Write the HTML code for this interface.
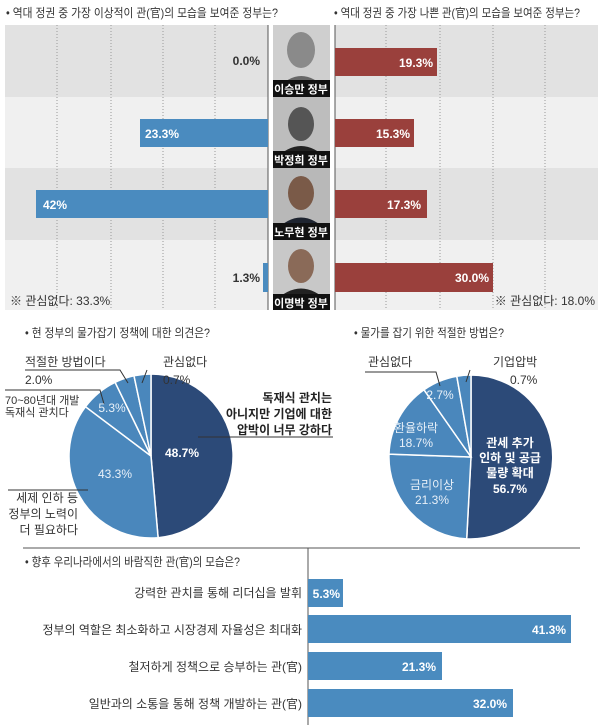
<!DOCTYPE html>
<html><head><meta charset="utf-8"><style>
body{margin:0;background:#fff}
svg{display:block}
text{font-family:"Liberation Sans","Noto Sans CJK KR",sans-serif}
</style></head><body>
<svg width="600" height="725" viewBox="0 0 600 725" xmlns="http://www.w3.org/2000/svg">
<rect width="600" height="725" fill="#fff"/>
<g font-size="12" fill="#333">
<text x="6" y="17" textLength="272" lengthAdjust="spacingAndGlyphs">• 역대 정권 중 가장 이상적이 관(官)의 모습을  보여준 정부는?</text>
<text x="334" y="17" textLength="246" lengthAdjust="spacingAndGlyphs">• 역대 정권 중 가장 나쁜 관(官)의 모습을 보여준 정부는?</text>
</g>
<rect x="5" y="25" width="263" height="72" fill="#e2e2e2"/>
<rect x="5" y="97" width="263" height="71" fill="#f0f0f0"/>
<rect x="5" y="168" width="263" height="72" fill="#e2e2e2"/>
<rect x="5" y="240" width="263" height="70" fill="#f0f0f0"/>
<rect x="335" y="25" width="263" height="72" fill="#e2e2e2"/>
<rect x="335" y="97" width="263" height="71" fill="#f0f0f0"/>
<rect x="335" y="168" width="263" height="72" fill="#e2e2e2"/>
<rect x="335" y="240" width="263" height="70" fill="#f0f0f0"/>
<g stroke="#999" stroke-width="1" stroke-dasharray="1,2">
<line x1="57" y1="25" x2="57" y2="310"/><line x1="111" y1="25" x2="111" y2="310"/>
<line x1="163" y1="25" x2="163" y2="310"/><line x1="215" y1="25" x2="215" y2="310"/>
<line x1="386" y1="25" x2="386" y2="310"/><line x1="440" y1="25" x2="440" y2="310"/>
<line x1="493" y1="25" x2="493" y2="310"/><line x1="545" y1="25" x2="545" y2="310"/>
</g>
<line x1="268" y1="25" x2="268" y2="310" stroke="#555"/>
<line x1="335" y1="25" x2="335" y2="310" stroke="#555"/>
<rect x="140" y="119" width="128" height="28" fill="#4a8bbf"/>
<rect x="36" y="190" width="232" height="28" fill="#4a8bbf"/>
<rect x="263" y="263" width="5" height="29" fill="#4a8bbf"/>
<rect x="335" y="48" width="102" height="28" fill="#9a403c"/>
<rect x="335" y="119" width="79" height="28" fill="#9a403c"/>
<rect x="335" y="190" width="92" height="28" fill="#9a403c"/>
<rect x="335" y="263" width="158" height="29" fill="#9a403c"/>
<g font-size="12" font-weight="bold">
<text x="260" y="65" text-anchor="end" fill="#333">0.0%</text>
<text x="145" y="138" fill="#fff">23.3%</text>
<text x="43" y="209" fill="#fff">42%</text>
<text x="260" y="282" text-anchor="end" fill="#333">1.3%</text>
<text x="433" y="67" text-anchor="end" fill="#fff">19.3%</text>
<text x="410" y="138" text-anchor="end" fill="#fff">15.3%</text>
<text x="421" y="209" text-anchor="end" fill="#fff">17.3%</text>
<text x="489" y="282" text-anchor="end" fill="#fff">30.0%</text>
</g>
<g font-size="12" fill="#333">
<text x="10" y="305">※ 관심없다: 33.3%</text>
<text x="595" y="305" text-anchor="end">※ 관심없다: 18.0%</text>
</g>
<g>
<rect x="273" y="25" width="57" height="72" fill="#cfcfcf"/>
<ellipse cx="301" cy="50" rx="14" ry="18" fill="#8a8a8a"/>
<path d="M276,90 Q301,62 327,90 Z" fill="#666"/>
<rect x="273" y="80" width="57" height="17" fill="#111"/>
<rect x="273" y="97" width="57" height="71" fill="#bdbdbd"/>
<ellipse cx="301" cy="124" rx="13" ry="17" fill="#555"/>
<path d="M274,160 Q301,132 328,160 Z" fill="#222"/>
<rect x="273" y="151" width="57" height="17" fill="#111"/>
<rect x="273" y="168" width="57" height="72" fill="#b8b8b8"/>
<ellipse cx="301" cy="193" rx="13" ry="17" fill="#7a5a48"/>
<path d="M274,232 Q301,203 328,232 Z" fill="#1e2430"/>
<rect x="273" y="223" width="57" height="17" fill="#111"/>
<rect x="273" y="240" width="57" height="70" fill="#c8c8c8"/>
<ellipse cx="301" cy="266" rx="13" ry="17" fill="#8a6a58"/>
<path d="M274,302 Q301,275 328,302 Z" fill="#222"/>
<rect x="273" y="294" width="57" height="16" fill="#111"/>
</g>
<g font-size="11" font-weight="bold" fill="#fff" text-anchor="middle">
<text x="301" y="93">이승만 정부</text>
<text x="301" y="164">박정희 정부</text>
<text x="301" y="236">노무현 정부</text>
<text x="301" y="307">이명박 정부</text>
</g>
<g font-size="12" fill="#333">
<text x="25" y="337" textLength="185" lengthAdjust="spacingAndGlyphs">• 현 정부의 물가잡기 정책에 대한 의견은?</text>
<text x="354" y="337" textLength="150" lengthAdjust="spacingAndGlyphs">• 물가를 잡기 위한 적절한 방법은?</text>
</g>
<g stroke="#fff" stroke-width="1.5">
<path d="M151,456 L151,374 A82,82 0 0 1 158.1,537.7 Z" fill="#2c4a78"/>
<path d="M151,456 L158.1,537.7 A82,82 0 0 1 85.5,406.7 Z" fill="#4a87bc"/>
<path d="M151,456 L85.5,406.7 A82,82 0 0 1 115.1,382.3 Z" fill="#4a87bc"/>
<path d="M151,456 L115.1,382.3 A82,82 0 0 1 134,375.8 Z" fill="#4a87bc"/>
<path d="M151,456 L134,375.8 A82,82 0 0 1 151,374 Z" fill="#4a87bc"/>
</g>
<g stroke="#fff" stroke-width="1.5">
<path d="M471,457 L471,375 A82,82 0 1 1 466.7,538.9 Z" fill="#2c4a78"/>
<path d="M471,457 L466.7,538.9 A82,82 0 0 1 389,454.1 Z" fill="#4a87bc"/>
<path d="M471,457 L389,454.1 A82,82 0 0 1 424,389.8 Z" fill="#4a87bc"/>
<path d="M471,457 L424,389.8 A82,82 0 0 1 456.8,376.2 Z" fill="#4a87bc"/>
<path d="M471,457 L456.8,376.2 A82,82 0 0 1 471,375 Z" fill="#4a87bc"/>
</g>
<g stroke="#333" stroke-width="1" fill="none">
<polyline points="198,437 333,437"/>
<polyline points="25,370 120,370 128,383"/>
<polyline points="147,370 142,383"/>
<polyline points="5,390 100,390 104,404"/>
<polyline points="8,490 88,490"/>
<polyline points="365,372 436,372 440,386"/>
<polyline points="470,370 466,382"/>
</g>
<g font-size="12" fill="#333">
<text x="25" y="366">적절한 방법이다</text>
<text x="25" y="384">2.0%</text>
<text x="163" y="366">관심없다</text>
<text x="163" y="384">0.7%</text>
<text x="5" y="404" font-size="11">70~80년대 개발</text>
<text x="5" y="416" font-size="11">독재식 관치다</text>
<g text-anchor="end"><text x="78" y="502">세제 인하 등</text><text x="78" y="518">정부의 노력이</text><text x="78" y="534">더 필요하다</text></g>
<text x="368" y="366">관심없다</text>
<text x="493" y="366">기업압박</text>
<text x="510" y="384">0.7%</text>
</g>
<g font-size="12" font-weight="bold" fill="#222" text-anchor="end">
<text x="332" y="402">독재식 관치는</text>
<text x="332" y="418">아니지만 기업에 대한</text>
<text x="332" y="434">압박이 너무 강하다</text>
</g>
<g font-size="12" fill="#fff" text-anchor="middle">
<text x="182" y="457" font-weight="bold">48.7%</text>
<text x="115" y="478" fill="#e8f0f8">43.3%</text>
<text x="112" y="412" fill="#e8f0f8">5.3%</text>
<text x="440" y="399" fill="#e8f0f8">2.7%</text>
<text x="416" y="432" fill="#e8f0f8">환율하락</text>
<text x="416" y="447" fill="#e8f0f8">18.7%</text>
<text x="432" y="489" fill="#e8f0f8">금리이상</text>
<text x="432" y="504" fill="#e8f0f8">21.3%</text>
<g font-weight="bold"><text x="510" y="447">관세 추가</text><text x="510" y="462">인하 및 공급</text><text x="510" y="477">물량 확대</text><text x="510" y="493">56.7%</text></g>
</g>
<line x1="23" y1="548" x2="580" y2="548" stroke="#555"/>
<line x1="308" y1="548" x2="308" y2="725" stroke="#555"/>
<text x="25" y="566" font-size="12" fill="#333" textLength="215" lengthAdjust="spacingAndGlyphs">• 향후 우리나라에서의 바람직한 관(官)의 모습은?</text>
<rect x="308" y="579" width="35" height="28" fill="#4a8bbf"/>
<rect x="308" y="615" width="263" height="28" fill="#4a8bbf"/>
<rect x="308" y="652" width="134" height="28" fill="#4a8bbf"/>
<rect x="308" y="689" width="205" height="28" fill="#4a8bbf"/>
<g font-size="12" fill="#333" text-anchor="end">
<text x="302" y="597">강력한 관치를 통해 리더십을 발휘</text>
<text x="302" y="634">정부의 역할은 최소화하고 시장경제 자율성은 최대화</text>
<text x="302" y="671">철저하게 정책으로 승부하는 관(官)</text>
<text x="302" y="708">일반과의 소통을 통해 정책 개발하는 관(官)</text>
</g>
<g font-size="12" font-weight="bold" fill="#fff" text-anchor="end">
<text x="340" y="598">5.3%</text>
<text x="566" y="634">41.3%</text>
<text x="436" y="671">21.3%</text>
<text x="507" y="708">32.0%</text>
</g>
</svg>
</body></html>
